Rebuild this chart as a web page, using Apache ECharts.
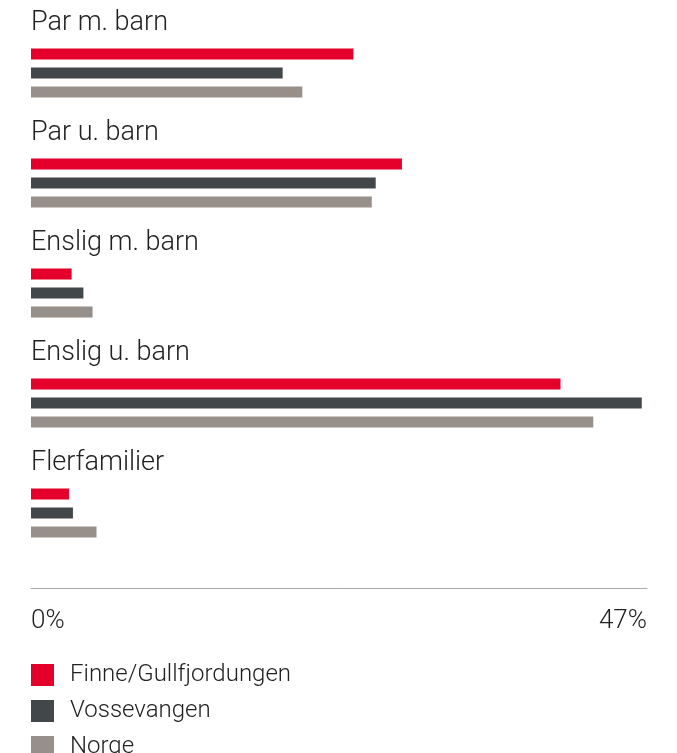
<!DOCTYPE html>
<html>
<head>
<meta charset="utf-8">
<script src="https://cdn.jsdelivr.net/npm/echarts@6/dist/echarts.min.js"></script>
<style>
  html, body { margin: 0; padding: 0; background: #fff; }
  #chart { width: 677px; height: 753px; }
</style>
</head>
<body>
<div id="chart"></div>
<script>
// kategorier og verdier (prosent)
const categories = ["Par m. barn", "Par u. barn", "Enslig m. barn", "Enslig u. barn", "Flerfamilier"];
const seriesNames = ["Finne/Gullfjordungen", "Vossevangen", "Norge"];
const finne = [24.6, 28.3, 3.1, 40.4, 2.9];
const vossevangen = [19.2, 26.3, 4.0, 46.6, 3.2];
const norge = [20.7, 26.0, 4.7, 42.9, 5.0];
const axisMax = 47;

const colors = ["#e4002b", "#42474a", "#968f8a"];
const font = "Roboto";

const chart = echarts.init(document.getElementById("chart"));

const mkBar = (name, data, i) => ({
  name: name,
  type: "bar",
  data: data,
  barWidth: 11,
  barGap: "73%",
  itemStyle: { color: colors[i] },
  silent: true,
});

chart.setOption({
  animation: false,
  textStyle: { fontFamily: font },
  grid: { left: 31, right: 30, top: 18, height: 550 },
  legend: {
    orient: "vertical",
    left: 31,
    top: 663,
    height: 120,
    padding: 0,
    itemWidth: 23,
    itemHeight: 22,
    itemGap: 12,
    icon: "rect",
    selectedMode: false,
    data: seriesNames,
    textStyle: { fontFamily: font, fontSize: 24, fontWeight: 300, color: "#222", padding: [0, 0, 0, 11] },
  },
  xAxis: {
    type: "value",
    min: 0,
    max: axisMax,
    interval: axisMax,
    offset: 20,
    axisLine: { show: true, lineStyle: { color: "#aaaaaa", width: 1 } },
    axisTick: { show: false },
    splitLine: { show: false },
    axisLabel: {
      formatter: "{value}%",
      fontFamily: font,
      fontSize: 26,
      fontWeight: 300,
      color: "#222",
      margin: 20,
      alignMinLabel: "left",
      alignMaxLabel: "right",
    },
  },
  yAxis: {
    type: "category",
    data: categories,
    inverse: true,
    axisLine: { show: false },
    axisTick: { show: false },
    splitLine: { show: false },
    axisLabel: {
      inside: true,
      margin: 0,
      align: "left",
      verticalAlign: "bottom",
      padding: [0, 0, 36, 0],
      fontFamily: font,
      fontSize: 27,
      fontWeight: 300,
      color: "#222",
    },
  },
  series: [
    mkBar(seriesNames[0], finne, 0),
    mkBar(seriesNames[1], vossevangen, 1),
    mkBar(seriesNames[2], norge, 2),
  ],
});
</script>
</body>
</html>
